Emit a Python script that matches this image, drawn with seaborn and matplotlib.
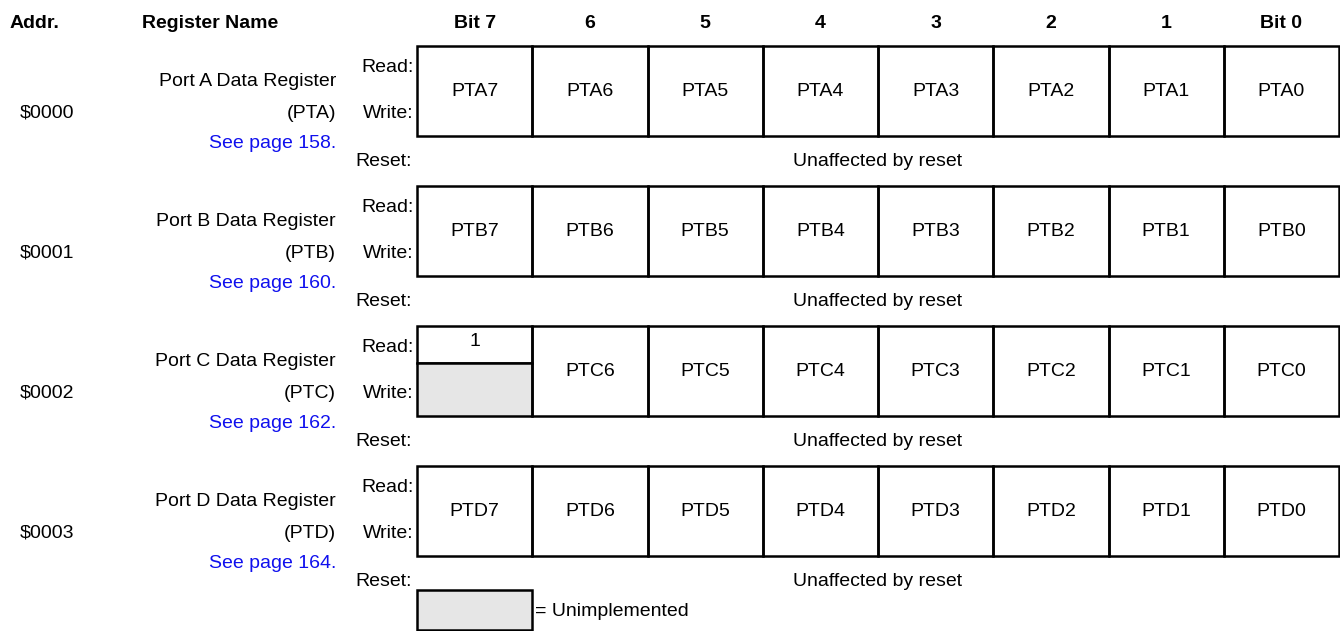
import matplotlib.pyplot as plt
import seaborn as sns
from matplotlib.patches import Rectangle

# register table data
addrs = ['$0000', '$0001', '$0002', '$0003']
reg_names = ['Port A Data Register', 'Port B Data Register',
             'Port C Data Register', 'Port D Data Register']
reg_abbr = ['(PTA)', '(PTB)', '(PTC)', '(PTD)']
pages = [158, 160, 162, 164]
bit_headers = ['Bit 7', '6', '5', '4', '3', '2', '1', 'Bit 0']
read_bits = [
    ['PTA7', 'PTA6', 'PTA5', 'PTA4', 'PTA3', 'PTA2', 'PTA1', 'PTA0'],
    ['PTB7', 'PTB6', 'PTB5', 'PTB4', 'PTB3', 'PTB2', 'PTB1', 'PTB0'],
    ['1', 'PTC6', 'PTC5', 'PTC4', 'PTC3', 'PTC2', 'PTC1', 'PTC0'],
    ['PTD7', 'PTD6', 'PTD5', 'PTD4', 'PTD3', 'PTD2', 'PTD1', 'PTD0'],
]
# None = unimplemented on write
write_bits = [
    ['PTA7', 'PTA6', 'PTA5', 'PTA4', 'PTA3', 'PTA2', 'PTA1', 'PTA0'],
    ['PTB7', 'PTB6', 'PTB5', 'PTB4', 'PTB3', 'PTB2', 'PTB1', 'PTB0'],
    [None, 'PTC6', 'PTC5', 'PTC4', 'PTC3', 'PTC2', 'PTC1', 'PTC0'],
    ['PTD7', 'PTD6', 'PTD5', 'PTD4', 'PTD3', 'PTD2', 'PTD1', 'PTD0'],
]
reset_text = ['Unaffected by reset'] * 4

sns.set_theme(style='white')
plt.rcParams['font.family'] = ['Liberation Sans', 'DejaVu Sans']
plt.rcParams['text.color'] = 'black'

GRAY = '#e6e6e6'
BLUE = '#1010ee'
FS = 14

fig = plt.figure(figsize=(13.4, 6.31), dpi=100)
ax = fig.add_axes([0, 0, 1, 1])
ax.set_xlim(0, 1340)
ax.set_ylim(631, 0)
ax.axis('off')

x0 = 417
cw = (1339 - 417) / 8
box_h = 90
pitch = 140

# header
ax.text(10, 23, 'Addr.', fontsize=FS, fontweight='bold', ha='left', va='center')
ax.text(142, 23, 'Register Name', fontsize=FS, fontweight='bold', ha='left', va='center')
for j, h in enumerate(bit_headers):
    ax.text(x0 + cw * (j + 0.5), 23, h, fontsize=FS, fontweight='bold',
            ha='center', va='center')

for i in range(len(addrs)):
    top = 46 + pitch * i
    ax.text(20, top + 67, addrs[i], fontsize=FS, ha='left', va='center')
    ax.text(336, top + 36, reg_names[i], fontsize=FS, ha='right', va='center')
    ax.text(336, top + 67, reg_abbr[i], fontsize=FS, ha='right', va='center')
    ax.text(336, top + 97, 'See page %d.' % pages[i], fontsize=FS,
            ha='right', va='center', color=BLUE)
    ax.text(414, top + 22, 'Read:', fontsize=FS, ha='right', va='center')
    ax.text(414, top + 67, 'Write:', fontsize=FS, ha='right', va='center')
    ax.text(355, top + 115, 'Reset:', fontsize=FS, ha='left', va='center')
    ax.text(x0 + cw * 4, top + 115, reset_text[i], fontsize=FS,
            ha='center', va='center')

    for j in range(8):
        cx = x0 + cw * j
        r, w = read_bits[i][j], write_bits[i][j]
        if r == w:
            ax.add_patch(Rectangle((cx, top), cw, box_h, fill=False,
                                   edgecolor='black', lw=1.8))
            ax.text(cx + cw / 2, top + box_h / 2 + 1, r, fontsize=FS,
                    ha='center', va='center')
        else:
            half = 37
            ax.add_patch(Rectangle((cx, top), cw, half, fill=False,
                                   edgecolor='black', lw=1.8))
            ax.text(cx + cw / 2, top + half / 2 - 3, r, fontsize=FS,
                    ha='center', va='center')
            ax.add_patch(Rectangle((cx, top + half), cw, box_h - half,
                                   facecolor=GRAY if w is None else 'white',
                                   edgecolor='black', lw=1.8))
            if w is not None:
                ax.text(cx + cw / 2, top + (box_h + half) / 2, w, fontsize=FS,
                        ha='center', va='center')

# legend
ax.add_patch(Rectangle((x0, 590), cw, 40, facecolor=GRAY,
                       edgecolor='black', lw=1.8))
ax.text(x0 + cw + 3, 611, '= Unimplemented', fontsize=FS, ha='left', va='center')

fig.savefig('out.png', dpi=100)
